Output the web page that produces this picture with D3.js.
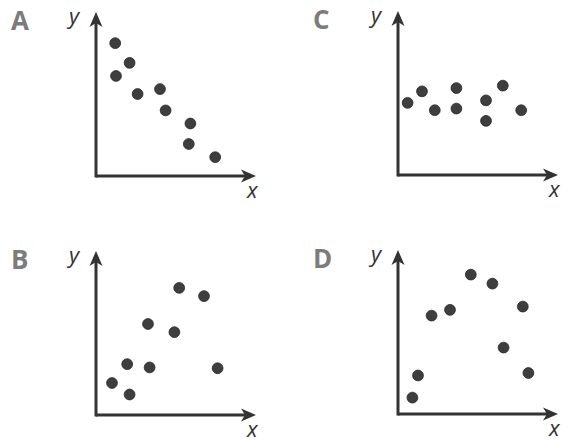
<!DOCTYPE html>
<html>
<head>
<meta charset="utf-8">
<script src="https://cdn.jsdelivr.net/npm/d3@7"></script>
<style>
  html, body { margin: 0; padding: 0; background: #fff; }
  svg { display: block; }
</style>
</head>
<body>
<svg id="chart" width="569" height="442"></svg>
<script>
// panel letters, in reading order (top row, then bottom row)
const panelLabels = ["A", "C", "B", "D"];

// scatter points for each panel, [x, y] on a 0-10 scale
const pointsA = [[1.2, 8.1], [2.1, 6.9], [1.25, 6.1], [2.6, 5.0], [4.0, 5.3], [4.35, 4.0], [5.9, 3.2], [5.8, 1.95], [7.45, 1.15]];
const pointsC = [[0.6, 4.4], [1.5, 5.1], [2.3, 3.95], [3.65, 5.3], [3.65, 4.05], [5.5, 4.55], [5.5, 3.3], [6.55, 5.45], [7.7, 3.95]];
const pointsB = [[1.0, 1.95], [2.1, 1.25], [1.95, 3.1], [3.35, 2.9], [3.25, 5.55], [4.9, 5.05], [5.2, 7.75], [6.75, 7.25], [7.6, 2.85]];
const pointsD = [[0.9, 1.0], [1.25, 2.35], [2.1, 6.0], [3.25, 6.35], [4.55, 8.5], [5.9, 7.95], [6.6, 4.05], [7.8, 6.55], [8.15, 2.5]];

const axisLabels = ["x", "y"];

const panelPoints = [pointsA, pointsC, pointsB, pointsD];
// origin of each panel's axes on the page
const origins = [[96, 176], [398, 175], [96, 415], [398, 414]];

const svg = d3.select("#chart");

const x = d3.scaleLinear().domain([0, 10]).range([0, 160]);
const y = d3.scaleLinear().domain([0, 10]).range([0, -164]);

const ink = "#333";

// swept-back arrow head pointing right, tip at 0,0
const arrowPath = "M0,0 L-15,-6.5 L-11,0 L-15,6.5 Z";

panelLabels.forEach((label, i) => {
  let g = svg.append("g")
    .attr("transform", `translate(${origins[i][0]},${origins[i][1]})`);

  // axes
  g.append("line")
    .attr("x1", 0).attr("y1", 0)
    .attr("x2", x(10) - 8).attr("y2", 0)
    .attr("stroke", ink).attr("stroke-width", 3);
  g.append("line")
    .attr("x1", 0).attr("y1", 1.5)
    .attr("x2", 0).attr("y2", y(10) + 8)
    .attr("stroke", ink).attr("stroke-width", 3);

  g.append("path")
    .attr("d", arrowPath)
    .attr("transform", `translate(${x(10)},0)`)
    .attr("fill", ink);
  g.append("path")
    .attr("d", arrowPath)
    .attr("transform", `translate(0,${y(10)}) rotate(-90)`)
    .attr("fill", ink);

  // panel letter
  g.append("text")
    .attr("x", -85).attr("y", -146)
    .attr("font-family", "'Open Sans', sans-serif")
    .attr("font-weight", 700)
    .attr("font-size", 26)
    .attr("fill", "#7c7c7c")
    .text(label);

  // axis names
  g.append("text")
    .attr("x", x(10) - 9).attr("y", 22)
    .attr("font-family", "'Open Sans', sans-serif")
    .attr("font-style", "italic")
    .attr("font-size", 22)
    .attr("fill", ink)
    .text(axisLabels[0]);
  g.append("text")
    .attr("x", -27).attr("y", y(10) + 12)
    .attr("font-family", "'Open Sans', sans-serif")
    .attr("font-style", "italic")
    .attr("font-size", 22)
    .attr("fill", ink)
    .text(axisLabels[1]);

  g.selectAll("circle")
    .data(panelPoints[i])
    .enter()
    .append("circle")
    .attr("cx", d => x(d[0]))
    .attr("cy", d => y(d[1]))
    .attr("r", 5.4)
    .attr("fill", "#3e3e3e")
    .attr("stroke", "#262626")
    .attr("stroke-width", 0.8);
});
</script>
</body>
</html>
